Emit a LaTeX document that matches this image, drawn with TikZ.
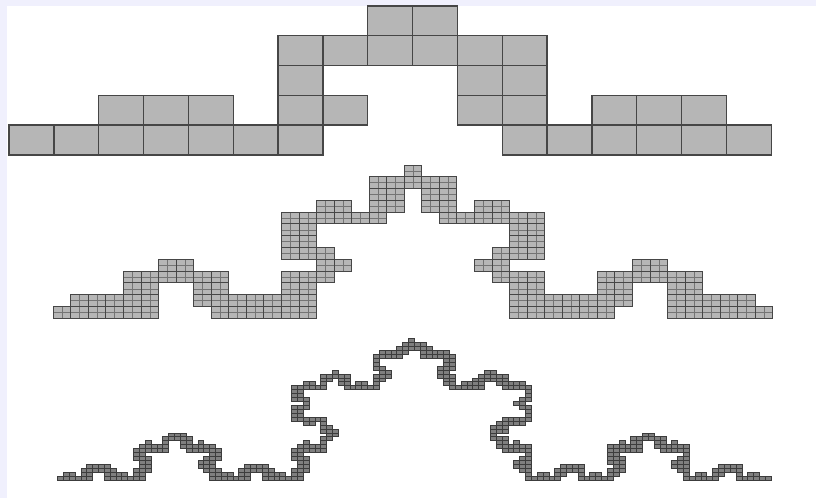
\documentclass[tikz,border=0pt]{standalone}

\definecolor{pagebg}{RGB}{240,240,253}
\definecolor{cellgray}{RGB}{182,182,182}
\definecolor{cellline}{RGB}{70,70,70}

\tikzset{
  bigcell/.style={fill=cellgray, draw=cellline, line width=1.4pt},
  midfill/.style={fill=cellgray},
  midcross/.style={draw=cellline!75, line width=0.5pt},
  midline/.style={draw=cellline, line width=1pt},
  tinyfill/.style={fill=cellgray!70!black},
  tinyline/.style={draw=cellline!85!black, line width=0.9pt},
}

% Koch curve walked on the triangular lattice, each grid cell it meets is used once
\newcount\kwa \newcount\kwb \newcount\kwd \newcount\kwc \newcount\kwr
\newdimen\kwxs \newdimen\kwys \newdimen\kwux \newdimen\kwuy
\newdimen\kwgx \newdimen\kwgy \newdimen\kwgw \newdimen\kwgh

\def\kochturn#1{\global\advance\kwd#1\relax
  \ifnum\kwd>5 \global\advance\kwd-6 \fi
  \ifnum\kwd<0 \global\advance\kwd6 \fi}
\def\kochfwd{%
  \ifcase\kwd \global\advance\kwa1
  \or \global\advance\kwb1
  \or \global\advance\kwa-1 \global\advance\kwb1
  \or \global\advance\kwa-1
  \or \global\advance\kwb-1
  \or \global\advance\kwa1 \global\advance\kwb-1
  \fi
  \kochmark}
\def\kochseg#1{\ifnum#1=0 \kochfwd\else
  \expandafter\kochsub\expandafter{\the\numexpr#1-1\relax}\fi}
\def\kochsub#1{\kochseg{#1}\kochturn{1}\kochseg{#1}\kochturn{-2}%
  \kochseg{#1}\kochturn{1}\kochseg{#1}}
\def\kochmark{%
  \kwc=\numexpr(2*(\kwxs+\kwux*(2*\kwa+\kwb)-\kwgx)-\kwgw)/(2*\kwgw)\relax
  \kwr=\numexpr(2*(\kwys+\kwuy*\kwb-\kwgy)-\kwgh)/(2*\kwgh)\relax
  \ifcsname kc@\kochtag @\the\kwc @\the\kwr\endcsname\else
    \expandafter\gdef\csname kc@\kochtag @\the\kwc @\the\kwr\endcsname{}%
    \edef\kwcx{\the\dimexpr\kwgx+\kwgw*\kwc\relax}%
    \edef\kwcy{\the\dimexpr\kwgy+\kwgh*\kwr\relax}%
    \kochcell
  \fi}
% start x, base y, half step x, step y, grid x, grid y, cell w, cell h
\newcommand\kochgrid[8]{%
  \kwxs=#1pt \kwys=#2pt \kwux=#3pt \kwuy=#4pt
  \kwgx=#5pt \kwgy=#6pt \kwgw=#7pt \kwgh=#8pt
  \edef\kwhw{\the\dimexpr\kwgw/2\relax}\edef\kwhh{\the\dimexpr\kwgh/2\relax}}
\newcommand\kochwalk[1]{%
  \global\kwa=0 \global\kwb=0 \global\kwd=0
  \kochmark\kochseg{#1}}

\newcommand\midcellfill{\fill[midfill] (\kwcx,\kwcy) rectangle ++(\kwgw,\kwgh);
  \draw[midcross] (\kwcx,\kwcy) ++(\kwhw,0) -- ++(0,\kwgh)
    (\kwcx,\kwcy) ++(0,\kwhh) -- ++(\kwgw,0);}
\newcommand\midcelldraw{\draw[midline] (\kwcx,\kwcy) rectangle ++(\kwgw,\kwgh);}
\newcommand\tinycellfill{\fill[tinyfill] (\kwcx,\kwcy) rectangle ++(\kwgw,\kwgh);}
\newcommand\tinycelldraw{\draw[tinyline] (\kwcx,\kwcy) rectangle ++(\kwgw,\kwgh);}

\begin{document}
\begin{tikzpicture}[x=1pt,y=1pt]
  \useasboundingbox (0,0) rectangle (816,498);
  \fill[pagebg] (0,0) rectangle (816,498);
  \fill[white] (7,0) rectangle (816,492);

  % coarse boxes
  \begin{scope}[shift={(9,343)}, x=44.84pt, y=29.8pt]
    \filldraw[bigcell] \foreach \r/\cs in {0/{0,1,2,3,4,5,6,11,12,13,14,15,16},
        1/{2,3,4,6,7,10,11,13,14,15}, 2/{6,10,11}, 3/{6,7,8,9,10,11}, 4/{8,9}}
      {\foreach \c in \cs {(\c,\r) rectangle ++(1,1)}};
  \end{scope}

  % middle boxes
  \kochgrid{62.1}{186.8}{0.48148}{0.56024}{18.2}{156.12}{17.55}{11.79}
  \def\kochtag{mf}\let\kochcell\midcellfill \kochwalk{6}
  \def\kochtag{md}\let\kochcell\midcelldraw \kochwalk{6}

  % fine boxes
  \kochgrid{58}{18}{0.48697}{0.56661}{40}{10}{5.85}{3.93}
  \def\kochtag{ff}\let\kochcell\tinycellfill \kochwalk{6}
  \def\kochtag{fd}\let\kochcell\tinycelldraw \kochwalk{6}
\end{tikzpicture}
\end{document}
